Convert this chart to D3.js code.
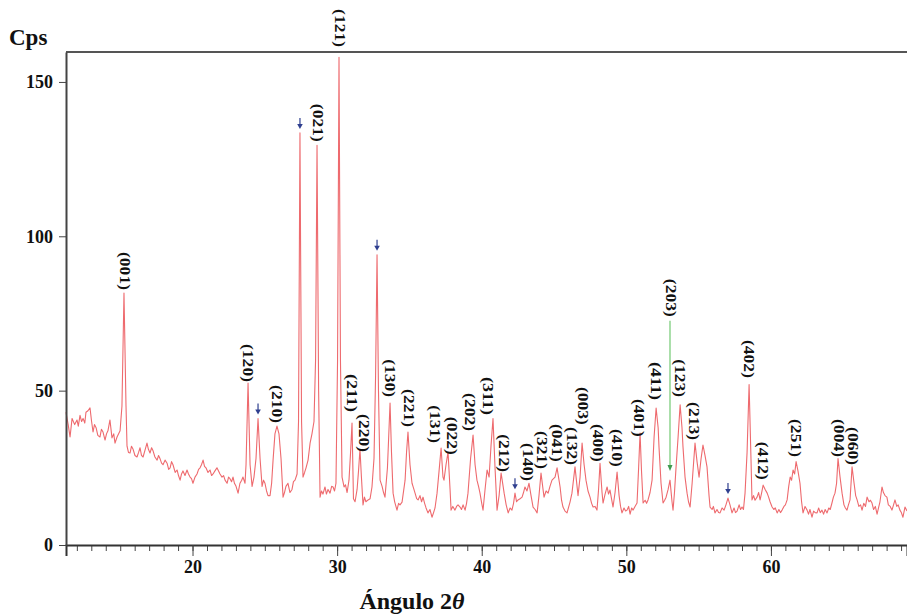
<!DOCTYPE html>
<html><head><meta charset="utf-8">
<script src="https://cdn.jsdelivr.net/npm/d3@7/dist/d3.min.js"></script>
<style>
html,body{margin:0;padding:0;background:#fff;}
svg text{font-family:"Liberation Serif","Times New Roman",serif;font-weight:bold;fill:#111;}
</style></head>
<body><svg id="chart" width="907" height="615"></svg>
<script>
// ---- data ----
// diffraction scan: [2θ (deg), intensity (cps)]
const scan = [
[11.25,43],[11.4,39],[11.53,35],[11.67,41],[11.85,39],[12.01,40.5],[12.1,38.5],[12.22,42],[12.33,40],[12.43,41],[12.55,39.5],[12.63,43],[12.77,43.5],[12.91,44.4],
[13.02,40],[13.12,36.6],[13.22,39],[13.33,38],[13.45,35.5],[13.6,35],[13.7,37.5],[13.81,36.6],[13.95,34],[14.05,36],[14.15,37],[14.29,40.5],[14.43,34.7],[14.55,36],[14.64,33],
[14.78,35],[14.99,37],[15.12,45],[15.26,81.6],[15.4,45],[15.47,32],[15.57,30],[15.68,29.8],[15.78,32],[15.89,31],[16.02,29],[16.16,28.5],[16.27,30],
[16.37,31.5],[16.47,29],[16.58,28.5],[16.7,30.5],[16.85,33],[16.95,31],[17.06,29.8],[17.17,31.5],[17.27,30.5],[17.4,28.5],[17.55,27.5],[17.65,29],[17.75,28],[17.86,26.5],[17.96,26],[18.1,27.5],[18.24,26.5],
[18.35,24.5],[18.45,25],[18.55,27],[18.65,26],[18.8,23.5],[18.93,24.3],[19.03,22.5],[19.14,21],[19.24,23],[19.34,24],[19.48,22.5],[19.62,24.3],[19.72,23],[19.83,22],[19.93,21.5],[20.03,20],[20.17,22],[20.31,23],
[20.42,24.5],[20.52,25],[20.62,26],[20.73,27.5],[20.83,25.5],[20.93,25],[21.07,23.5],[21.21,24.3],[21.32,22.5],[21.42,23],[21.55,24],[21.69,25],[21.8,24],[21.9,23],[22.04,22],[22.15,22.5],[22.25,21],
[22.39,20],[22.49,22],[22.59,21.5],[22.7,20.5],[22.8,22],[22.9,20],[23.01,19],[23.15,16.8],[23.28,20],[23.4,21],[23.49,22],[23.63,20],[23.7,26],
[23.84,52.5],[23.98,26],[24.12,19],[24.25,22],[24.39,28],[24.53,41],[24.67,28],[24.81,19],[24.91,21],[25.01,20],[25.12,17.5],
[25.22,16],[25.36,16],[25.47,20],[25.57,27.5],[25.7,36],[25.84,38.5],[25.98,36],[26.12,28],[26.26,15.5],[26.36,17],[26.46,19],
[26.6,20],[26.74,17],[26.88,18],[26.98,20.5],[27.09,21],[27.23,23],[27.33,40],[27.43,133.5],[27.54,40],[27.64,22],[27.75,23.5],[27.85,25],
[27.99,27.5],[28.13,33],[28.26,36],[28.4,40],[28.51,60],[28.61,129.5],[28.72,50],[28.82,15.5],[28.92,17.5],[29.02,16.5],
[29.16,18.8],[29.26,16.5],[29.37,18],[29.51,16.8],[29.62,19],[29.72,18.8],[29.82,17.5],[29.92,20],[30.03,60],[30.13,158],[30.23,60],[30.34,22],
[30.48,18.8],[30.58,19.5],[30.69,17],[30.82,21],[30.93,30],[31.03,39.5],[31.13,15],[31.24,14],[31.38,18],[31.48,24],
[31.58,31],[31.68,22],[31.79,13],[31.89,15.5],[31.99,14],[32.14,14.6],[32.28,15],[32.41,18.8],[32.55,28],[32.66,55],
[32.76,94],[32.86,50],[32.97,21],[33.11,19],[33.21,17],[33.31,15.5],[33.48,25],[33.66,46],[33.76,30],[33.87,16.8],[33.98,14],
[34.14,11.3],[34.25,13.5],[34.35,13],[34.49,13.9],[34.7,21],[34.8,30],[34.9,36.6],[35.04,26],[35.18,20],[35.28,18.5],[35.39,16.8],
[35.5,15],[35.6,14.6],[35.73,16],[35.84,14],[35.94,15.5],[36.05,13.5],[36.15,12],[36.28,10.4],[36.42,11.5],[36.56,9],[36.67,10.5],[36.77,12],[36.91,16.8],[37.05,24],
[37.19,31.4],[37.32,22],[37.39,21],[37.53,26],[37.67,30.1],[37.81,18],[37.88,11.3],[38.0,12.5],[38.15,11.3],[38.26,12.5],[38.36,13],
[38.5,12.3],[38.6,11.5],[38.71,13],[38.85,11.3],[38.95,13.5],[39.05,16.8],[39.23,28],[39.4,35.6],[39.54,26],[39.67,21],[39.78,19],[39.88,16.8],
[40.0,13.5],[40.09,11.3],[40.23,18],[40.37,24.3],[40.51,22],[40.64,32],[40.78,41],[40.92,25],[41.06,11.3],[41.2,16],
[41.34,23.3],[41.48,19],[41.55,16.8],[41.69,13],[41.83,10.4],[41.96,12],[42.09,11.3],[42.2,13.5],[42.3,16.8],[42.41,14],[42.51,14.6],[42.65,15],
[42.79,15.5],[42.89,17],[42.99,18.8],[43.13,17.5],[43.27,20],[43.41,16],[43.55,12.3],[43.69,11.5],[43.83,10.4],[43.96,16],[44.1,23.3],[44.24,18],
[44.31,15.5],[44.45,17.5],[44.59,16.8],[44.72,19],[44.86,21],[45.07,22],[45.21,25],[45.42,18.8],[45.52,14.5],[45.62,12.3],[45.76,11],[45.9,10.4],[46.11,14],
[46.24,16.8],[46.45,25.3],[46.66,16],[46.8,22],[46.94,33],[47.08,26],[47.21,21],[47.35,17.5],[47.49,15.5],[47.6,13.5],[47.7,12.3],[47.84,12.5],
[47.97,11.3],[48.08,18],[48.18,26.5],[48.32,17],[48.39,13.6],[48.53,16.5],[48.67,18.8],[48.77,16.5],[48.87,17.8],[49.08,12.3],[49.22,17],
[49.36,23.6],[49.5,16],[49.6,12.5],[49.7,10.4],[49.84,12],[49.95,11],[50.05,11.3],[50.16,12.5],[50.26,10],[50.37,12],[50.47,11.3],[50.6,12.5],[50.74,13.6],[50.85,25],[50.95,36.3],
[51.05,24],[51.16,13.6],[51.3,14.5],[51.4,13.5],[51.5,14.6],[51.64,17],[51.78,21],[51.92,35],[52.06,44.4],[52.2,38],[52.26,31.7],[52.4,20],
[52.54,13.6],[52.65,14.5],[52.75,15.5],[52.89,18],[53.02,21],[53.16,14],[53.23,11.3],[53.33,17],[53.44,25.3],[53.58,35],[53.72,45.4],
[53.85,38],[53.92,31.7],[54.06,22],[54.2,16.8],[54.3,14],[54.41,12.3],[54.55,20],[54.75,33],[54.89,27],[55.03,22],
[55.17,28],[55.3,32.4],[55.44,29],[55.58,25.3],[55.72,16],[55.79,12.3],[55.93,11.5],[56.02,12.5],[56.13,10.4],[56.27,11.5],[56.38,10.5],[56.48,10.4],[56.62,12],[56.76,11.3],
[56.89,13],[57.03,15.2],[57.17,13],[57.31,10.4],[57.45,12],[57.55,10.5],[57.66,11],[57.8,13],[57.9,11.5],[58.0,12.3],[58.1,11.5],[58.21,16.8],[58.35,30],[58.49,52],
[58.62,28],[58.69,14.6],[58.8,16],[58.9,14.5],[59.04,15.5],[59.15,17],[59.25,14.6],[59.36,17],[59.46,19.4],[59.6,18],[59.74,16.8],[59.84,15.5],[59.94,14],[60.08,12.3],
[60.2,11.5],[60.3,12],[60.43,10.4],[60.55,11.5],[60.66,10.5],[60.77,11.3],[60.9,12.5],[61.0,13],[61.12,14.6],[61.23,19],[61.33,22],[61.43,21],[61.53,24.3],[61.64,23],[61.74,27],[61.87,24],[62.01,20],[62.12,14],[62.22,10.4],
[62.36,12.5],[62.5,11.3],[62.6,10],[62.7,11.5],[62.84,9],[62.95,11],[63.06,10.5],[63.19,10.4],[63.3,12],[63.41,10.5],[63.53,11.3],[63.64,10],[63.75,11.5],[63.88,10.4],[64.0,12],[64.1,11.5],[64.22,13.6],[64.32,15.5],[64.43,16.8],[64.54,20],[64.64,28],[64.78,22],
[64.92,16.8],[65.05,13],[65.15,12],[65.26,11.3],[65.36,13],[65.47,14.6],[65.61,25.3],[65.75,20],[65.86,16],[65.96,14.6],[66.08,12.5],[66.2,13],[66.3,11.3],[66.42,13.5],[66.54,12.5],[66.65,15.5],[66.78,14],[66.88,14.5],[66.99,13.6],
[67.1,11.5],[67.22,12.5],[67.34,10],[67.44,12],[67.54,14],[67.68,18.8],[67.78,17],[67.89,16],[68.02,15.5],[68.12,13],[68.25,12.5],[68.37,11.3],[68.48,13],[68.58,14.6],[68.7,12.5],[68.8,13],[68.92,11.3],[69.02,10.5],[69.13,9],
[69.27,12.3],[69.41,11]
];

// Miller-index labels: text, 2θ, cps at the lower end of the label
const hklText  = ["(001)","(120)","(210)","(021)","(121)","(211)","(220)","(130)","(221)","(131)","(022)","(202)","(311)","(212)","(140)","(321)","(041)","(132)","(003)","(400)","(410)","(401)","(411)","(203)","(123)","(213)","(402)","(412)","(251)","(004)","(060)"];
const hklAngle = [15.33,23.84,25.84,28.68,30.2,31.03,31.86,33.66,34.97,36.77,37.95,39.19,40.44,41.54,43.2,44.17,45.21,46.24,47.01,48.04,49.36,50.88,52.06,53.09,53.72,54.68,58.49,59.46,61.74,64.71,65.68];
const hklCps   = [82.6,52.8,39.5,130.6,161.3,43.1,30.1,47.9,38.2,33.0,29.2,36.9,42.1,23.6,20.7,24.6,26.9,25.9,38.9,26.9,25.3,35.0,47.0,73.9,47.9,34.0,54.1,21.1,28.5,28.5,25.9];

// blue arrows (secondary phase): 2θ and peak cps
const arrowAngle = [24.53,27.43,32.76,42.30,57.03];
const arrowCps   = [41,133.5,94,16.8,15.2];

// green marker for (203): 2θ, cps at its tip
const markAngle = [53.02];
const markCps   = [24];

const xTickValues = [20,30,40,50,60];
const yTickValues = [0,50,100,150];

// ---- drawing ----
const L = 66, T = 52, R = 907, B = 545;
const svg = d3.select("#chart");

const x = d3.scaleLinear().domain([11.25, 69.41]).range([L, R]);
const y = d3.scaleLinear().domain([0, 159.7]).range([B, T]);

// trace
const line = d3.line().x(d => x(d[0])).y(d => y(d[1]));
svg.append("path").datum(scan)
  .attr("d", line).attr("fill", "none")
  .attr("stroke", "#ee6a6e").attr("stroke-width", 1.1).attr("stroke-linejoin", "round");

// frame: top border
svg.append("line").attr("x1", L).attr("x2", R).attr("y1", T).attr("y2", T)
  .attr("stroke", "#555").attr("stroke-width", 2);

// x axis (minor ticks)
const xMinor = svg.append("g").attr("transform", `translate(0,${B})`)
  .call(d3.axisBottom(x).tickValues(d3.range(12, 70)).tickSize(6).tickFormat(""));
xMinor.select(".domain").remove();
xMinor.selectAll("line").attr("stroke", "#444");
const xAxis = svg.append("g").attr("transform", `translate(0,${B})`)
  .call(d3.axisBottom(x).tickValues(xTickValues).tickSize(11).tickPadding(4).tickFormat(d3.format("d")));
xAxis.select(".domain").attr("stroke", "#333").attr("stroke-width", 2);
xAxis.selectAll("line").attr("stroke", "#444");
xAxis.selectAll("text").attr("font-size", 18).attr("fill", "#111")
  .style("font-family", "'Liberation Serif',serif").style("font-weight", "bold");

// y axis
const yAxis = svg.append("g").attr("transform", `translate(${L},0)`)
  .call(d3.axisLeft(y).tickValues(yTickValues).tickSize(7).tickPadding(6).tickSizeOuter(0));
yAxis.select(".domain").attr("stroke", "#444").attr("stroke-width", 2);
yAxis.selectAll("line").attr("stroke", "#444");
yAxis.selectAll("text").attr("font-size", 18).attr("fill", "#111")
  .style("font-family", "'Liberation Serif',serif").style("font-weight", "bold");

// titles
svg.append("text").attr("x", 9).attr("y", 45).attr("font-size", 23).text("Cps");
const xt = svg.append("text").attr("x", 412).attr("y", 609).attr("text-anchor", "middle").attr("font-size", 24);
xt.append("tspan").text("Ángulo 2");
xt.append("tspan").attr("font-style", "italic").text("θ");

// green marker for (203)
markAngle.forEach((a, i) => {
  const yTop = y(hklCps[hklText.indexOf("(203)")]) + 4;
  svg.append("line").attr("x1", x(a)).attr("x2", x(a)).attr("y1", yTop).attr("y2", y(markCps[i]) - 4)
    .attr("stroke", "#8fd48f").attr("stroke-width", 1.5);
  svg.append("path").attr("transform", `translate(${x(a)},${y(markCps[i])})`)
    .attr("d", "M-2.5,-6L2.5,-6L0,0Z").attr("fill", "#3f9a4f");
});

// blue arrows
arrowAngle.forEach((a, i) => {
  const g = svg.append("g").attr("transform", `translate(${x(a)},${y(arrowCps[i]) - 4})`);
  g.append("line").attr("x1", 0).attr("x2", 0).attr("y1", -11).attr("y2", -4)
    .attr("stroke", "#2f3f8f").attr("stroke-width", 1.2);
  g.append("path").attr("d", "M-2.8,-5L2.8,-5L0,0Z").attr("fill", "#2f3f8f");
});

// hkl labels (vertical)
hklText.forEach((t, i) => {
  svg.append("text")
    .attr("transform", `translate(${x(hklAngle[i])},${y(hklCps[i])}) rotate(90)`)
    .attr("text-anchor", "end").attr("dy", "0.35em")
    .attr("font-size", 14).attr("textLength", 38).attr("lengthAdjust", "spacingAndGlyphs")
    .text(t);
});
</script></body></html>
